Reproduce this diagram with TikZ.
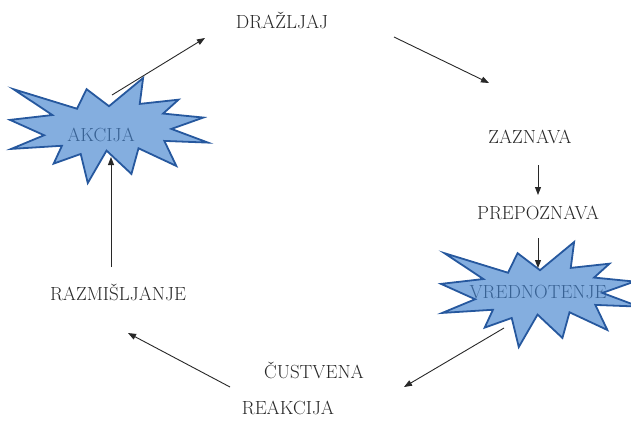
\documentclass[tikz,border=0pt]{standalone}
\usepackage{fontspec}
\usepackage{tikz}
\usetikzlibrary{arrows.meta,calc,positioning}

\definecolor{burstfill}{RGB}{66,130,206}
\definecolor{burstline}{RGB}{38,88,158}
\definecolor{txtgray}{RGB}{40,40,40}

\tikzset{
  lbl/.style={text=txtgray, inner sep=0pt, font=\fontsize{19}{22}\selectfont},
  arr/.style={-{Triangle[length=8pt,width=6pt]}, line width=0.9pt, draw=txtgray},
  burst/.style={fill=burstfill, fill opacity=0.65, draw=burstline, draw opacity=1,
                line width=1.8pt, line join=miter}
}

% explosion shape, 198 x 105 px, top left corner at #1,#2
\newcommand{\explosion}[2]{%
  \begin{scope}[shift={(#1,#2)}, xscale=0.91667, yscale=0.48611]
    \draw[burst] (108,58) -- (145.22,0) -- (141.55,53.25) -- (183.8,44.57)
      -- (167.02,73.15) -- (210.97,81.37) -- (176.07,104.75) -- (216,132.9)
      -- (168.37,129.42) -- (181.45,180.95) -- (140.2,144.57) -- (132.47,197.37)
      -- (105.32,149.35) -- (84.85,216) -- (77.15,156.27) -- (47.62,176.17)
      -- (56.67,139.37) -- (1.35,145.87) -- (37.22,117.75) -- (0,86.15)
      -- (46.27,76.17) -- (3.7,22.95) -- (73.12,63.2) -- (83.52,22.95) -- cycle;
  \end{scope}}

\begin{document}
\begin{tikzpicture}[x=1pt, y=-1pt]
      \useasboundingbox (0,0) rectangle (631,421);
      \clip (0,0) rectangle (631,421);
      % labels
      \node[lbl] (draz) at (282,20) {DRAŽLJAJ};
      \node[lbl] (zazn) at (530,137) {ZAZNAVA};
      \node[lbl] (prep) at (538,213) {PREPOZNAVA};
      \node[lbl] (vred) at (538,292) {VREDNOTENJE};
      \node[lbl] (cust) at (314,370) {ČUSTVENA};
      \node[lbl] (reak) at (288,408) {REAKCIJA};
      \node[lbl] (razm) at (118,292) {RAZMIŠLJANJE};
      \node[lbl] (akc) at (101,135) {AKCIJA};
      % explosions
      \explosion{10}{78}
      \explosion{441}{242}
      % cycle
      \draw[arr] ([shift={(11pt,40pt)}]akc.center) -- ([shift={(-77pt,-18pt)}]draz.center);
      \draw[arr] ([shift={(112pt,-17pt)}]draz.center) -- ([shift={(-41pt,54pt)}]zazn.center);
      \draw[arr] ([shift={(8pt,-28pt)}]zazn.center) -- ([shift={(0pt,18pt)}]prep.center);
      \draw[arr] ([shift={(0pt,-25pt)}]prep.center) -- ([shift={(0pt,24pt)}]vred.center);
      \draw[arr] ([shift={(-34pt,-36pt)}]vred.center) -- ([shift={(90pt,-17pt)}]cust.center);
      \draw[arr] ([shift={(-58pt,21pt)}]reak.center) -- ([shift={(10pt,-41pt)}]razm.center);
      \draw[arr] ([shift={(-7pt,25pt)}]razm.center) -- ([shift={(10pt,-22pt)}]akc.center);
    \end{tikzpicture}
\end{document}
